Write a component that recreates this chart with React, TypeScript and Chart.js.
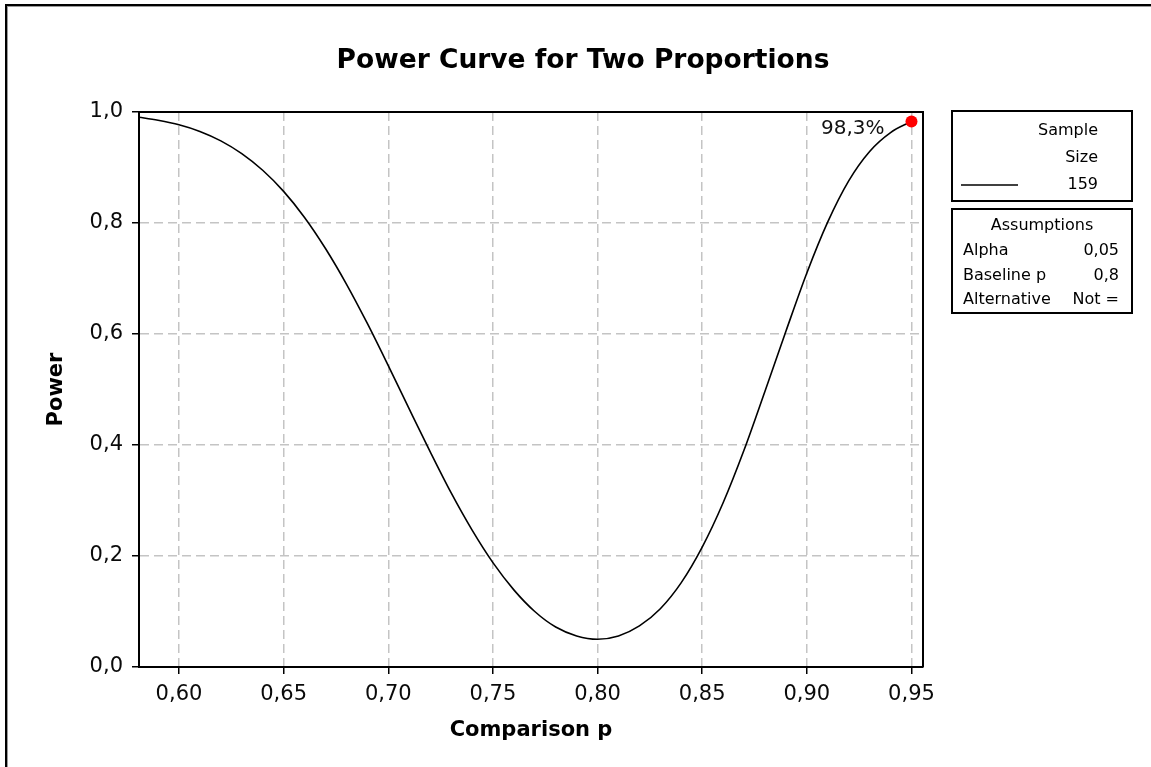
import React, { useEffect, useRef } from 'react';
import { Chart, registerables } from 'chart.js';

Chart.register(...registerables);

// ---- data ----
const comparisonP = [
  0.58, 0.59, 0.6, 0.61, 0.62, 0.63, 0.64, 0.65, 0.66, 0.67, 0.68, 0.69, 0.7,
  0.71, 0.72, 0.73, 0.74, 0.75, 0.76, 0.77, 0.78, 0.79, 0.8, 0.81, 0.82, 0.83,
  0.84, 0.85, 0.86, 0.87, 0.88, 0.89, 0.9, 0.91, 0.92, 0.93, 0.94, 0.95,
];
const powerValues = [
  0.991, 0.985, 0.977, 0.965, 0.948, 0.925, 0.895, 0.857, 0.81, 0.754, 0.69,
  0.619, 0.543, 0.465, 0.388, 0.314, 0.247, 0.188, 0.139, 0.1, 0.072, 0.056,
  0.05, 0.056, 0.074, 0.105, 0.152, 0.216, 0.296, 0.391, 0.497, 0.605, 0.71,
  0.802, 0.876, 0.929, 0.963, 0.983,
];
const xTickValues = [0.6, 0.65, 0.7, 0.75, 0.8, 0.85, 0.9, 0.95];
const yTickValues = [0, 0.2, 0.4, 0.6, 0.8, 1.0];
const xRange = [0.5809, 0.9555];
const yRange = [0, 1];
const markedP = 0.95;
const markedPower = 0.983;
const markedLabel = '98,3%';

const titleText = 'Power Curve for Two Proportions';
const xTitleText = 'Comparison p';
const yTitleText = 'Power';
const legendHeader = ['Sample', 'Size'];
const sampleSize = '159';
const assumptionsHeader = 'Assumptions';
const assumptionLabels = ['Alpha', 'Baseline p', 'Alternative'];
const assumptionValues = ['0,05', '0,8', 'Not ='];

const FONT = "'DejaVu Sans', 'Verdana', sans-serif";

const decorations = {
  id: 'decorations',
  afterDraw(chart: any) {
    const ctx = chart.ctx as CanvasRenderingContext2D;
    const a = chart.chartArea;
    ctx.save();

    // outer frame (top & left)
    ctx.fillStyle = '#000';
    ctx.fillRect(5, 4, 1151 - 5, 2);
    ctx.fillRect(5, 4, 2, 767 - 4);
    ctx.fillStyle = '#9a9a9a';
    ctx.fillRect(7, 6, 1151 - 7, 1);
    ctx.fillRect(7, 6, 1, 767 - 6);

    // plot frame top & right
    ctx.strokeStyle = '#000';
    ctx.lineWidth = 2;
    ctx.beginPath();
    ctx.moveTo(a.left, a.top);
    ctx.lineTo(a.right, a.top);
    ctx.lineTo(a.right, a.bottom);
    ctx.stroke();

    // title
    ctx.fillStyle = '#000';
    ctx.font = `bold 26.5px ${FONT}`;
    ctx.textAlign = 'center';
    ctx.textBaseline = 'middle';
    ctx.fillText(titleText, 583, 61);

    // marked point label
    const xs = chart.scales.x;
    const ys = chart.scales.y;
    const px = xs.getPixelForValue(markedP);
    const py = ys.getPixelForValue(markedPower);
    ctx.font = `20px ${FONT}`;
    ctx.fillStyle = '#111';
    ctx.textAlign = 'right';
    ctx.textBaseline = 'middle';
    ctx.fillText(markedLabel, px - 27, py + 7);

    // legend box 1
    ctx.strokeStyle = '#000';
    ctx.lineWidth = 2;
    ctx.strokeRect(952, 111, 180, 90);
    ctx.font = `16px ${FONT}`;
    ctx.fillStyle = '#000';
    ctx.textAlign = 'right';
    ctx.fillText(legendHeader[0], 1098, 131);
    ctx.fillText(legendHeader[1], 1098, 158);
    ctx.fillText(sampleSize, 1098, 185);
    ctx.lineWidth = 1.6;
    ctx.beginPath();
    ctx.moveTo(961, 185);
    ctx.lineTo(1018, 185);
    ctx.stroke();

    // legend box 2
    ctx.lineWidth = 2;
    ctx.strokeRect(952, 209, 180, 104);
    ctx.textAlign = 'center';
    ctx.fillText(assumptionsHeader, 1042, 226);
    for (let i = 0; i < assumptionLabels.length; i++) {
      const y = 251 + i * 24.5;
      ctx.textAlign = 'left';
      ctx.fillText(assumptionLabels[i], 963, y);
      ctx.textAlign = 'right';
      ctx.fillText(assumptionValues[i], 1119, y);
    }
    ctx.restore();
  },
};

export default function App() {
  const ref = useRef<HTMLCanvasElement>(null);
  useEffect(() => {
    document.body.style.margin = '0';
    const canvas = ref.current!;
    const chart = new Chart(canvas, {
      type: 'line',
      data: {
        datasets: [
          {
            data: [{ x: markedP, y: markedPower }],
            showLine: false,
            pointRadius: 6,
            pointBackgroundColor: '#ff0000',
            pointBorderColor: '#ff0000',
            pointBorderWidth: 0,
            order: 0,
            clip: false,
          } as any,
          {
            data: comparisonP.map((x, i) => ({ x, y: powerValues[i] })),
            borderColor: '#000',
            borderWidth: 1.6,
            pointRadius: 0,
            cubicInterpolationMode: 'monotone',
            fill: false,
            order: 1,
          } as any,
        ],
      },
      options: {
        responsive: false,
        animation: false,
        layout: { padding: { top: 112, right: 228, left: 0, bottom: 0 } },
        plugins: {
          legend: { display: false },
          tooltip: { enabled: false },
          title: { display: false },
        },
        scales: {
          x: {
            type: 'linear',
            min: xRange[0],
            max: xRange[1],
            afterBuildTicks: (s: any) => {
              s.ticks = xTickValues.map((v) => ({ value: v }));
            },
            afterFit: (s: any) => {
              s.height = 100;
            },
            ticks: {
              callback: (v: any) => Number(v).toFixed(2).replace('.', ','),
              font: { family: FONT, size: 21 },
              color: '#0a0a0a',
              padding: 8,
              maxRotation: 0,
              autoSkip: false,
            },
            grid: {
              color: '#c4c4c4',
              lineWidth: 1.5,
              tickLength: 7,
              tickColor: '#000',
              tickWidth: 1.5,
            },
            border: { display: true, color: '#000', width: 2, dash: [9, 5] },
            title: {
              display: true,
              text: xTitleText,
              font: { family: FONT, size: 21, weight: 'bold' },
              color: '#000',
              padding: { top: 0, bottom: 24 },
            },
          },
          y: {
            type: 'linear',
            min: yRange[0],
            max: yRange[1],
            afterBuildTicks: (s: any) => {
              s.ticks = yTickValues.map((v) => ({ value: v }));
            },
            afterFit: (s: any) => {
              s.width = 139;
            },
            ticks: {
              callback: (v: any) => Number(v).toFixed(1).replace('.', ','),
              font: { family: FONT, size: 21 },
              color: '#0a0a0a',
              padding: 9,
            },
            grid: {
              color: '#c4c4c4',
              lineWidth: 1.5,
              tickLength: 7,
              tickColor: '#000',
              tickWidth: 1.5,
            },
            border: { display: true, color: '#000', width: 2, dash: [9, 5] },
            title: {
              display: true,
              text: yTitleText,
              font: { family: FONT, size: 21, weight: 'bold' },
              color: '#000',
              padding: { top: 44, bottom: 0 },
            },
          },
        },
      },
      plugins: [decorations],
    } as any);
    return () => chart.destroy();
  }, []);
  return (
    <div style={{ width: 1151, height: 767 }}>
      <canvas ref={ref} width={1151} height={767} style={{ display: 'block' }} />
    </div>
  );
}
